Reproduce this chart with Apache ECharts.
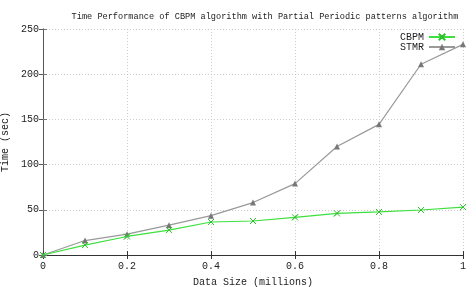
<!DOCTYPE html>
<html>
<head>
<meta charset="utf-8">
<style>
  html, body { margin: 0; padding: 0; background: #fff; }
  #chart { width: 476px; height: 287px; }
</style>
<script src="https://cdn.jsdelivr.net/npm/echarts@6/dist/echarts.min.js"></script>
</head>
<body>
<div id="chart"></div>
<script>
// data
const dataSizes = [0, 0.1, 0.2, 0.3, 0.4, 0.5, 0.6, 0.7, 0.8, 0.9, 1.0];
const cbpmTimes = [0, 11, 20.5, 27.6, 36.5, 37.6, 41.7, 46, 47.6, 49.8, 53];
const stmrTimes = [0, 16, 23, 33, 43.5, 58, 79, 120, 144.5, 211, 233];
const seriesNames = ['CBPM', 'STMR'];

const font = 'Liberation Mono, DejaVu Sans Mono, monospace';
const crossPath = 'path://M0,0L10,10M10,0L0,10L5,5Z';

const chart = echarts.init(document.getElementById('chart'));

const pairs = ys => dataSizes.map((x, i) => [x, ys[i]]);

const option = {
    animation: false,
    title: {
        text: 'Time Performance of CBPM algorithm with Partial Periodic patterns algorithm',
        left: 260,
        textAlign: 'center',
        top: 7,
        textStyle: { fontFamily: font, fontSize: 8.6, fontWeight: 'normal', color: '#222' },
    },
    legend: {
        right: 15,
        top: 27,
        orient: 'vertical',
        align: 'right',
        itemGap: 0,
        itemWidth: 26,
        itemHeight: 8,
        data: seriesNames,
        textStyle: { fontFamily: font, fontSize: 10, color: '#222', padding: [0, 0, 0, 0] },
    },
    grid: { left: 43, right: 13, top: 29, bottom: 32, outerBoundsMode: 'none' },
    xAxis: [
        {
            type: 'value',
            min: 0,
            max: 1,
            interval: 0.2,
            name: 'Data Size (millions)',
            nameLocation: 'middle',
            nameGap: 22,
            nameTextStyle: { fontFamily: font, fontSize: 10, color: '#222' },
            axisLine: { lineStyle: { color: '#333', width: 1 } },
            axisTick: { inside: true, length: 4, lineStyle: { color: '#333' } },
            axisLabel: {
                fontFamily: font, fontSize: 10, color: '#222', margin: 6,
                formatter: v => (v === 0 || v === 1) ? String(v) : v.toFixed(1),
            },
            splitLine: { show: true, lineStyle: { color: '#ccc', type: [1, 2] } },
        },
        {
            type: 'value',
            position: 'top',
            min: 0,
            max: 1,
            interval: 0.2,
            axisLine: { show: true, lineStyle: { color: '#333', width: 1 } },
            axisTick: { show: true, inside: true, length: 4, lineStyle: { color: '#333' } },
            axisLabel: { show: false },
            splitLine: { show: false },
        },
    ],
    yAxis: [
        {
            type: 'value',
            min: 0,
            max: 250,
            interval: 50,
            name: 'Time (sec)',
            nameLocation: 'middle',
            nameGap: 28,
            nameTextStyle: { fontFamily: font, fontSize: 10, color: '#222' },
            axisLine: { show: true, lineStyle: { color: '#777', width: 1 } },
            axisTick: { show: true, inside: true, length: 4, lineStyle: { color: '#777' } },
            axisLabel: { fontFamily: font, fontSize: 10, color: '#222', margin: 4 },
            splitLine: { show: true, lineStyle: { color: '#ccc', type: [1, 2] } },
        },
        {
            type: 'value',
            position: 'right',
            min: 0,
            max: 250,
            interval: 50,
            axisLine: { show: true, lineStyle: { color: '#555', width: 1 } },
            axisTick: { show: true, inside: true, length: 4, lineStyle: { color: '#555' } },
            axisLabel: { show: false },
            splitLine: { show: false },
        },
    ],
    series: [
        {
            name: seriesNames[0],
            type: 'line',
            data: pairs(cbpmTimes),
            symbol: crossPath,
            symbolSize: 6,
            lineStyle: { color: '#3de03d', width: 1.2 },
            itemStyle: { color: '#3de03d', borderColor: '#2fc02f', borderWidth: 1 },
            z: 3,
        },
        {
            name: seriesNames[1],
            type: 'line',
            data: pairs(stmrTimes),
            symbol: 'triangle',
            symbolSize: 6,
            lineStyle: { color: '#999', width: 1.2 },
            itemStyle: { color: '#777' },
            z: 2,
        },
    ],
};

chart.setOption(option);
</script>
</body>
</html>
